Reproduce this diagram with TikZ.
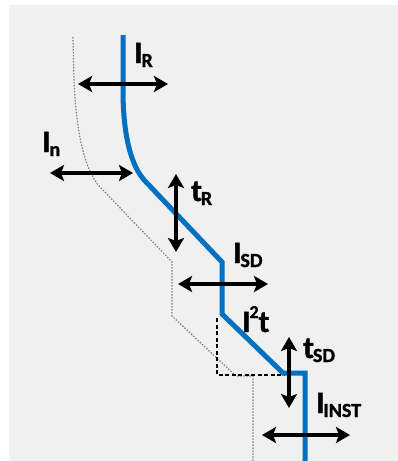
\documentclass[tikz,border=0pt]{standalone}
\usepackage{fontspec}
\setmainfont{Carlito}[BoldFeatures={FakeBold=1.2}]
\usetikzlibrary{arrows.meta}
\definecolor{tripblue}{RGB}{0,112,192}
\definecolor{panelgray}{RGB}{240,240,240}
\newcommand{\bigsz}{\fontsize{31}{32}\selectfont}
\newcommand{\smallsz}{\fontsize{20}{21}\selectfont}
\newcommand{\tclabel}[2]{{\bigsz #1}\kern-1pt\raisebox{-4pt}{\smallsz #2}}

\begin{document}
\begin{tikzpicture}[x=1pt,y=-1pt,
  adj/.style={line width=3.5pt,
    {Stealth[length=14pt,width=16pt,inset=3pt]}-{Stealth[length=14pt,width=16pt,inset=3pt]}},
  lbl/.style={anchor=base west, inner sep=0pt, font=\bfseries}]
  \useasboundingbox (0,0) rectangle (398,461);

  % panel
  \fill[black!5] (9,5) rectangle (398,461);
  \fill[panelgray] (12,8) rectangle (398,461);

  % reference curve
  \draw[black!50, line width=1.2pt, dash pattern=on 1.5pt off 1.5pt]
    (73,37) -- (74,80) .. controls (76,130) and (84,170) .. (100,187)
    -- (172,262) -- (172,316) -- (236,376) -- (253,376) -- (253,461);

  % I2t box
  \draw[black, line width=1.8pt, dash pattern=on 4pt off 2.5pt]
    (217,318) -- (217,375) -- (284,375);

  % trip curve
  \draw[tripblue, line width=5pt]
    (123,35) -- (123,90) .. controls (123,135) and (131,167) .. (146,182)
    -- (222,262) -- (222,314) -- (283,373) -- (305,373) -- (305,461);

  % settings
  \draw[adj] (78,84) -- (168,84);
  \draw[adj] (50,173) -- (133,173);
  \draw[adj] (176,174) -- (176,252);
  \draw[adj] (178,284) -- (268,284);
  \draw[adj] (289,337) -- (289,408);
  \draw[adj] (262,435) -- (350,435);

  \node[lbl] (ir) at (134,63) {\tclabel{I}{R}};
  \node[lbl] (in) at (42,152) {\tclabel{I}{n}};
  \node[lbl] (tr) at (191,201) {\tclabel{t}{R}};
  \node[lbl] (isd) at (233,263) {\tclabel{I}{SD}};
  \node[lbl] (i2t) at (242,332) {\bigsz I\kern-1pt\raisebox{14pt}{\fontsize{18}{19}\selectfont 2}t};
  \node[lbl] (tsd) at (303,358) {\tclabel{t}{SD}};
  \node[lbl] (iinst) at (316,413) {\tclabel{I}{INST}};
\end{tikzpicture}
\end{document}
